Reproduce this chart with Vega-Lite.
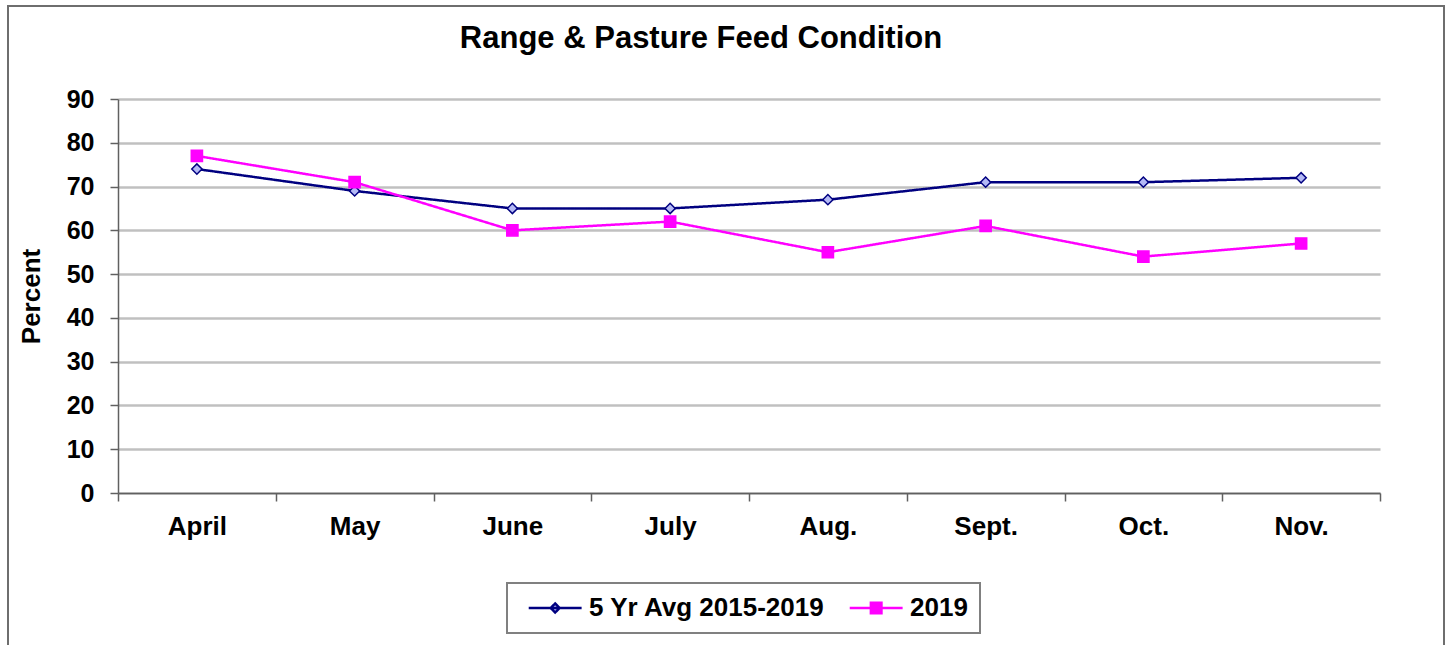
{
  "$schema": "https://vega.github.io/schema/vega-lite/v6.json",
  "width": 1262,
  "height": 394,
  "autosize": {"type": "none"},
  "padding": {"left": 118, "top": 99, "right": 70, "bottom": 152},
  "background": "white",
  "title": {
    "text": "Range & Pasture Feed Condition",
    "font": "Liberation Sans",
    "fontSize": 31,
    "fontWeight": "bold",
    "color": "black",
    "offset": 34,
    "dx": -48,
    "dy": 84
  },
  "data": {
    "values": [
      {"month": "April", "series": "5 Yr Avg 2015-2019", "value": 74},
      {"month": "May", "series": "5 Yr Avg 2015-2019", "value": 69},
      {"month": "June", "series": "5 Yr Avg 2015-2019", "value": 65},
      {"month": "July", "series": "5 Yr Avg 2015-2019", "value": 65},
      {"month": "Aug.", "series": "5 Yr Avg 2015-2019", "value": 67},
      {"month": "Sept.", "series": "5 Yr Avg 2015-2019", "value": 71},
      {"month": "Oct.", "series": "5 Yr Avg 2015-2019", "value": 71},
      {"month": "Nov.", "series": "5 Yr Avg 2015-2019", "value": 72},
      {"month": "April", "series": "2019", "value": 77},
      {"month": "May", "series": "2019", "value": 71},
      {"month": "June", "series": "2019", "value": 60},
      {"month": "July", "series": "2019", "value": 62},
      {"month": "Aug.", "series": "2019", "value": 55},
      {"month": "Sept.", "series": "2019", "value": 61},
      {"month": "Oct.", "series": "2019", "value": 54},
      {"month": "Nov.", "series": "2019", "value": 57}
    ]
  },
  "encoding": {
    "x": {
      "field": "month",
      "type": "ordinal",
      "sort": ["April", "May", "June", "July", "Aug.", "Sept.", "Oct.", "Nov."],
      "scale": {"type": "band", "paddingInner": 0, "paddingOuter": 0},
      "axis": {
        "title": null,
        "labelAngle": 0,
        "labelFont": "Liberation Sans",
        "labelFontSize": 26,
        "labelFontWeight": "bold",
        "labelColor": "black",
        "labelPadding": 12,
        "tickBand": "extent",
        "tickSize": 8,
        "tickWidth": 1.5,
        "tickColor": "#606060",
        "domainColor": "#606060",
        "domainWidth": 1.5,
        "grid": false
      }
    },
    "y": {
      "field": "value",
      "type": "quantitative",
      "scale": {"domain": [0, 90], "nice": false},
      "axis": {
        "title": "Percent",
        "titleFont": "Liberation Sans",
        "titleFontSize": 26,
        "titleFontWeight": "bold",
        "titleColor": "black",
        "titlePadding": 22,
        "values": [0, 10, 20, 30, 40, 50, 60, 70, 80, 90],
        "labelFont": "Liberation Sans",
        "labelFontSize": 25,
        "labelFontWeight": "bold",
        "labelColor": "black",
        "labelPadding": 16,
        "tickSize": 8,
        "tickWidth": 1.5,
        "tickColor": "#606060",
        "domainColor": "#606060",
        "domainWidth": 1.5,
        "grid": true,
        "gridColor": "#c0c0c0",
        "gridWidth": 2.5
      }
    }
  },
  "layer": [
    {
      "mark": {"type": "line", "strokeWidth": 2.5},
      "encoding": {
        "stroke": {
          "field": "series",
          "type": "nominal",
          "scale": {"range": ["#ff00ff", "#000080"]},
          "legend": null
        },
        "strokeDash": {
          "field": "series",
          "type": "nominal",
          "scale": {"domain": ["5 Yr Avg 2015-2019", "2019"], "range": [[1, 0], [1, 0]]},
          "legend": {
            "title": null,
            "orient": "none",
            "direction": "horizontal",
            "legendX": 389,
            "legendY": 484,
            "padding": 12,
            "symbolOffset": 2,
            "symbolSize": 112,
            "symbolStrokeWidth": 2.5,
            "labelOffset": 42,
            "labelLimit": 0,
            "columnPadding": 14,
            "strokeColor": "#808080",
            "labelFont": "Liberation Sans",
            "labelFontSize": 26,
            "labelFontWeight": "bold",
            "labelColor": "black",
            "encode": {
              "symbols": {
                "update": {
                  "shape": {"signal": "datum.value === '2019' ? 'M-1,0H9M3,-1H5V1H3Z' : 'M-1,0H9M4,-0.85L4.85,0L4,0.85L3.15,0Z'"},
                  "fill": {"signal": "datum.value === '2019' ? '#ff00ff' : '#b4b9f5'"},
                  "stroke": {"signal": "datum.value === '2019' ? '#ff00ff' : '#000080'"},
                  "strokeWidth": {"value": 2.5},
                  "opacity": {"value": 1}
                }
              }
            }
          }
        }
      }
    },
    {
      "mark": {"type": "point", "filled": true, "strokeWidth": 1.5, "opacity": 1},
      "encoding": {
        "shape": {
          "field": "series",
          "type": "nominal",
          "scale": {"range": ["square", "diamond"]},
          "legend": null
        },
        "fill": {
          "field": "series",
          "type": "nominal",
          "scale": {"range": ["#ff00ff", "#b4b9f5"]},
          "legend": null
        },
        "stroke": {
          "field": "series",
          "type": "nominal",
          "legend": null
        },
        "size": {
          "field": "series",
          "type": "nominal",
          "scale": {"range": [125, 105]},
          "legend": null
        }
      }
    },
    {
      "mark": {"type": "point", "opacity": 0},
      "encoding": {
        "color": {
          "field": "value",
          "type": "quantitative",
          "legend": {
            "type": "gradient",
            "title": null,
            "orient": "none",
            "direction": "horizontal",
            "legendX": -110,
            "legendY": -93,
            "padding": 0,
            "gradientLength": 1436,
            "gradientThickness": 700,
            "gradientStrokeWidth": 0,
            "labelExpr": "''",
            "labelFontSize": 0,
            "labelOpacity": 0,
            "strokeColor": "#6e6e6e",
            "encode": {"gradient": {"update": {"opacity": {"value": 0}}}}
          }
        }
      }
    }
  ],
  "config": {
    "view": {"stroke": null},
    "legend": {"strokeWidth": 2}
  }
}
